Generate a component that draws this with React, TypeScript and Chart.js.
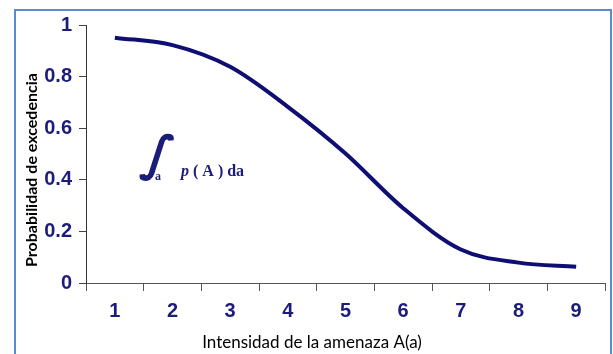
import React, { useEffect, useRef } from "react";
import { Chart, registerables } from "chart.js";

Chart.register(...registerables);

const categories = ["1", "2", "3", "4", "5", "6", "7", "8", "9"];
const exceedance = [0.951, 0.922, 0.838, 0.683, 0.502, 0.29, 0.13, 0.079, 0.063];
const yTickValues = [0, 0.2, 0.4, 0.6, 0.8, 1];
const yTickLabels = ["0", "0.2", "0.4", "0.6", "0.8", "1"];
const xTitle = "Intensidad de la amenaza A(a)";
const yTitle = "Probabilidad de excedencia";

const NAVY = "#1c1c7a";
const LINE = "#0e0e73";

const decorPlugin = {
  id: "decor",
  afterDraw(chart: any) {
    const ctx = chart.ctx;
    ctx.save();
    // frame
    ctx.strokeStyle = "#5a8ad0";
    ctx.lineWidth = 2;
    ctx.strokeRect(15, 10, 596, 360);
    // axis titles
    ctx.fillStyle = "#000";
    ctx.textAlign = "center";
    ctx.textBaseline = "middle";
    ctx.font = "17px Lato";
    ctx.fillText(xTitle, 312, 343);
    ctx.save();
    ctx.translate(32, 170);
    ctx.rotate(-Math.PI / 2);
    ctx.font = "bold 16px Lato";
    ctx.fillText(yTitle, 0, 0);
    ctx.restore();
    // integral annotation
    ctx.fillStyle = NAVY;
    ctx.textAlign = "left";
    ctx.textBaseline = "alphabetic";
    ctx.save();
    ctx.translate(140, 170);
    ctx.transform(1, 0, -0.25, 1, 0, 0);
    ctx.font = "bold 48px 'DejaVu Sans'";
    ctx.fillText("\u222B", 0, 0);
    ctx.restore();
    ctx.font = "bold 12px 'Liberation Serif'";
    ctx.fillText("a", 155, 180);
    ctx.font = "bold 16px 'Liberation Serif'";
    ctx.fillText("( A ) da", 193, 176);
    ctx.font = "italic bold 16px 'Liberation Serif'";
    ctx.fillText("p", 181, 176);
    ctx.restore();
  },
};

export default function App() {
  const ref = useRef<HTMLCanvasElement | null>(null);
  useEffect(() => {
    if (!ref.current) return;
    const chart = new Chart(ref.current, {
      type: "line",
      data: {
        labels: categories,
        datasets: [
          {
            data: exceedance,
            borderColor: LINE,
            borderWidth: 4,
            pointRadius: 0,
            cubicInterpolationMode: "monotone",
            fill: false,
          },
        ],
      },
      options: {
        responsive: false,
        animation: false,
        events: [],
        layout: { padding: { top: 25, right: 8, left: 0, bottom: 0 } },
        plugins: { legend: { display: false }, tooltip: { enabled: false } },
        scales: {
          x: {
            type: "category",
            offset: true,
            grid: {
              offset: true,
              drawOnChartArea: false,
              drawTicks: true,
              tickLength: 8,
              color: "#555",
            },
            border: { display: true, color: "#555", width: 1 },
            ticks: {
              color: NAVY,
              font: { family: "'Liberation Sans', Arial", size: 20, weight: "bold" },
              padding: 8,
              maxRotation: 0,
            },
            afterFit(scale: any) {
              scale.height = 71;
            },
          },
          y: {
            min: 0,
            max: 1,
            grid: {
              drawOnChartArea: false,
              drawTicks: true,
              tickLength: 7,
              color: "#444",
            },
            border: { display: true, color: "#333", width: 1 },
            ticks: {
              stepSize: 0.1,
              color: NAVY,
              font: { family: "'Liberation Sans', Arial", size: 20, weight: "bold" },
              padding: 7,
              callback: (v: any) => {
                const i = yTickValues.findIndex((t) => Math.abs(t - Number(v)) < 1e-6);
                return i >= 0 ? yTickLabels[i] : "";
              },
            },
            afterFit(scale: any) {
              scale.width = 86;
            },
          },
        },
      },
      plugins: [decorPlugin],
    } as any);
    return () => chart.destroy();
  }, []);
  return (
    <div style={{ position: "absolute", left: 0, top: 0, width: 613, height: 354, background: "#fff" }}>
      <canvas ref={ref} width={613} height={354} style={{ display: "block" }} />
    </div>
  );
}
